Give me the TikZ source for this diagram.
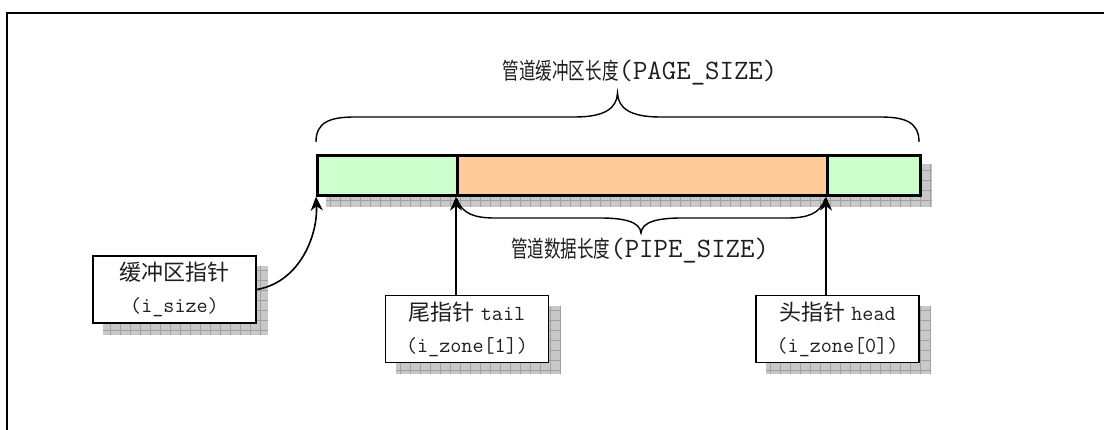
\documentclass[tikz,border=0pt]{standalone}
\usepackage{fontspec}
\usetikzlibrary{arrows.meta,backgrounds}
\newfontfamily\cjk{Noto Sans CJK SC}
\definecolor{segGreen}{RGB}{204,255,204}
\definecolor{segOrange}{RGB}{255,204,153}
\definecolor{shadowFill}{RGB}{200,200,200}
\definecolor{shadowLine}{RGB}{160,160,160}
\definecolor{txt}{RGB}{30,30,30}
\newcommand\bx[1]{{\cjk\fontsize{22}{32}\selectfont #1}}
\newcommand\mx[1]{{\ttfamily\fontsize{21.5}{32}\selectfont #1}}
\newcommand\tcj[1]{{\cjk\fontsize{23}{30}\selectfont\scalebox{0.72}[1]{#1}}}
\newcommand\tmo[1]{{\ttfamily\fontsize{28}{30}\selectfont #1}}
\begin{document}
\begin{tikzpicture}[x=1pt,y=-1pt,
  seg/.style={draw=black,line width=2.6pt,minimum height=40pt,inner sep=0pt,anchor=north west},
  ptrbox/.style={draw=black,fill=white,line width=1.8pt,minimum width=163pt,minimum height=67pt,align=center,inner sep=0pt,text=txt,font=\fontsize{22}{32}\selectfont},
  conn/.style={line width=1.6pt,-{Stealth[length=14pt,width=12pt,inset=4.5pt]}},
  bracestyle/.style={line width=1.4pt},
  shadowbox/.style={fill=shadowFill},
  shadowgrid/.style={draw=shadowLine,line width=0.5pt,step=10pt},
  label/.style={inner sep=0pt,text=txt}
]
\useasboundingbox (0,0) rectangle (1104,430);
% frame
\draw[line width=2.2pt] (7,431) -- (7,13) -- (1105,13);

% buffer bar
\node[seg,fill=segGreen,minimum width=140pt] (seg1) at (316,154) {};
\node[seg,fill=segOrange,minimum width=370pt] (seg2) at (456,154) {};
\node[seg,fill=segGreen,minimum width=93pt] (seg3) at (826,154) {};

% pointer boxes
\node[ptrbox] (box1) at (174.5,289.5) {\bx{缓冲区指针}\\\mx{(i\_size)}};
\node[ptrbox] (box2) at (467,329) {\bx{尾指针}\hspace{6pt}\mx{tail}\\\mx{(i\_zone[1])}};
\node[ptrbox] (box3) at (837.5,329) {\bx{头指针}\hspace{6pt}\mx{head}\\\mx{(i\_zone[0])}};

% shadows
\begin{scope}[on background layer]
  \foreach \n in {box1,box2,box3}{
    \fill[shadowbox] ([xshift=11pt,yshift=-11pt]\n.north west) rectangle ([xshift=11pt,yshift=-11pt]\n.south east);
    \draw[shadowgrid] ([xshift=11pt,yshift=-11pt]\n.north west) grid ([xshift=11pt,yshift=-11pt]\n.south east);
  }
  \fill[shadowbox] ([xshift=10pt,yshift=-10pt]seg1.north west) rectangle ([xshift=10pt,yshift=-10pt]seg3.south east);
  \draw[shadowgrid] ([xshift=10pt,yshift=-10pt]seg1.north west) grid ([xshift=10pt,yshift=-10pt]seg3.south east);
\end{scope}

% braces
\draw[bracestyle] (316,142) .. controls (316,122) and (330,117) .. (355,117) -- (575,117)
  .. controls (605,117) and (617,108) .. (617.5,93)
  .. controls (618,108) and (630,117) .. (660,117) -- (880,117)
  .. controls (905,117) and (919,122) .. (919,142);
\draw[bracestyle] (457,199) .. controls (462,214) and (475,218) .. (495,218) -- (600,218)
  .. controls (625,218) and (640,222) .. (641,233)
  .. controls (642,222) and (657,218) .. (682,218) -- (787,218)
  .. controls (807,218) and (820,214) .. (825,199);

% labels
\node[label] (lblpage) at (640,73) {\tcj{管道缓冲区长度}\tmo{(PAGE\_SIZE)}};
\node[label] (lblpipe) at (640,251) {\tcj{管道数据长度}\tmo{(PIPE\_SIZE)}};

% connectors
\draw[conn] (box1.east) .. controls (300,282) and (318,235) .. (seg1.south west);
\draw[conn] (box2.north -| seg2.south west) -- (seg2.south west);
\draw[conn] (box3.north -| seg3.south west) -- (seg3.south west);
\end{tikzpicture}
\end{document}
